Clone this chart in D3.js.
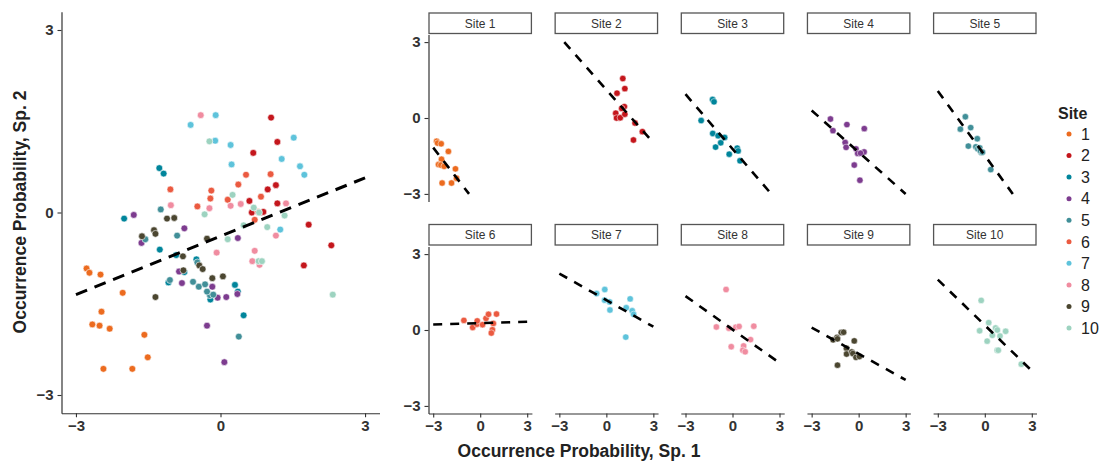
<!DOCTYPE html>
<html>
<head>
<meta charset="utf-8">
<script src="https://cdn.jsdelivr.net/npm/d3@7"></script>
<style>
  html, body { margin: 0; padding: 0; background: #fff; }
  svg { display: block; font-family: "Liberation Sans", Arial, sans-serif; }
</style>
</head>
<body>
<svg id="chart" width="1101" height="461"></svg>
<script>
// ---------------- DATA ----------------
const sites = [1, 2, 3, 4, 5, 6, 7, 8, 9, 10];
const siteColors = ["#EC6B1F", "#C4161C", "#00859B", "#7D3C8F", "#418F98",
                    "#EB5A40", "#5EC3DB", "#F08CA0", "#4B4630", "#9DD3C0"];
const tickValues = [-3, 0, 3];

// Occurrence probability of species 1 (x) per site
const sp1 = [
  [-2.78, -2.72, -2.49, -2.03, -2.47, -2.66, -2.51, -2.30, -1.58, -1.51, -2.43, -1.83],
  [1.05, 0.68, 1.18, 1.15, 0.98, 0.60, 0.82, 0.65, 0.89, 1.18, 1.83, 2.30, 1.73],
  [-1.27, -1.18, -2.00, -1.26, -0.92, -0.50, -0.75, -1.08, 0.30, 0.36, -0.21, 0.48],
  [-1.80, -1.64, -0.75, 0.36, -0.86, -0.80, -0.17, 0.35, -0.06, 0.12, -0.28, 0.08],
  [-1.24, -1.56, -0.90, -0.48, -1.05, -0.57, -0.45, -0.32, -0.22, -0.28, -0.15, 0.38],
  [-1.04, -0.48, -0.21, -0.19, 0.15, 0.37, 0.53, 1.04, 0.84, 0.78, 0.71],
  [-0.62, -0.10, -0.11, 0.21, 0.23, 1.52, 1.27, 1.65, 1.74, 1.24],
  [-0.41, -1.03, -0.23, 0.21, 0.42, 1.36, 1.15, -0.08, 0.71, 0.66, 0.81],
  [-1.11, -0.96, -1.63, -1.38, -1.35, -0.28, -0.78, -0.77, -0.44, -0.37, -0.17, 0.05, -1.35],
  [-0.23, 0.25, -0.33, 0.69, 0.80, 1.33, 0.48, 0.97, 0.15, 0.79, 0.86, 2.33]
];
// Occurrence probability of species 2 (y) per site
const sp2 = [
  [-0.92, -0.99, -1.02, -1.32, -1.63, -1.84, -1.86, -1.91, -2.01, -2.38, -2.57, -2.57],
  [1.56, 0.98, 1.16, 0.45, 0.38, 0.19, 0.00, 0.00, 0.01, 0.15, -0.20, -0.54, -0.87],
  [0.73, 0.64, -0.10, -0.61, -0.70, -0.77, -0.98, -1.15, -1.19, -1.30, -1.43, -1.69],
  [-0.04, -0.50, -0.26, -0.42, -0.97, -1.16, -1.22, -1.34, -1.40, -1.39, -1.86, -2.46],
  [0.05, -0.44, -0.38, -0.82, -1.11, -1.14, -1.22, -1.18, -1.36, -1.30, -1.35, -2.04],
  [0.38, 0.10, 0.23, 0.36, 0.21, 0.46, 0.62, 0.63, 0.26, 0.01, -0.12],
  [1.44, 1.60, 1.18, 1.11, 0.79, 1.23, 0.88, 0.76, 0.62, -0.28],
  [1.60, 0.12, 0.07, 0.11, 0.14, 0.15, -0.38, -0.66, -0.63, -0.80, -0.86],
  [-0.10, -0.09, -0.39, -0.29, -0.35, -0.43, -0.72, -0.95, -0.87, -0.93, -1.08, -1.05, -1.39],
  [1.17, 0.29, -0.03, 0.08, 0.00, -0.05, -0.21, -0.24, -0.44, -0.80, -0.80, -1.35]
];
// Within-site fitted lines (intercept, slope)
const siteIntercept = [-3.57, 1.12, -1.22, -1.35, -1.48, 0.27, 1.18, 0.02, -0.94, 0.19];
const siteSlope     = [-0.80, -0.70, -0.72, -0.55, -0.85, 0.018, -0.35, -0.44, -0.345, -0.60];
// Pooled fitted line
const pooledIntercept = -0.39;
const pooledSlope = 0.32;

const xTitle = "Occurrence Probability, Sp. 1";
const yTitle = "Occurrence Probability, Sp. 2";
const legendTitle = "Site";

// ---------------- HELPERS ----------------
const points = [];
sites.forEach((s, i) => sp1[i].forEach((x, j) => points.push({ site: s, idx: i, x: x, y: sp2[i][j] })));

function clippedSegment(a, b) {
  // line y = a + b x, x in [-3,3], clipped to y in [-3,3]
  let x0 = -3, x1 = 3;
  if (b !== 0) {
    const xa = (3 - a) / b, xb = (-3 - a) / b;
    const lo = Math.min(xa, xb), hi = Math.max(xa, xb);
    x0 = Math.max(x0, lo); x1 = Math.min(x1, hi);
  }
  return [[x0, a + b * x0], [x1, a + b * x1]];
}

const svg = d3.select("#chart");
const fmt = d => (d < 0 ? "\u2212" : "") + Math.abs(d);

function styleAxis(g) {
  g.select(".domain").attr("stroke", "#333").attr("stroke-width", 1.2);
  g.selectAll(".tick line").attr("stroke", "#333").attr("stroke-width", 1.1);
  g.selectAll(".tick text").attr("fill", "#333").attr("font-size", 15)
    .attr("font-weight", "bold").attr("font-family", "Liberation Sans, Arial, sans-serif");
}

// ---------------- LEFT PANEL ----------------
const xL = d3.scaleLinear().domain([-3.3, 3.3]).range([61.5, 379.5]);
const yL = d3.scaleLinear().domain([-3.3, 3.3]).range([413.25, 11.75]);

const left = svg.append("g");
left.append("g").attr("transform", "translate(0,413.25)")
  .call(d3.axisBottom(xL).tickValues(tickValues).tickFormat(fmt).tickSize(4).tickSizeOuter(0).tickPadding(3))
  .call(styleAxis);
left.append("g").attr("transform", "translate(61.5,0)")
  .call(d3.axisLeft(yL).tickValues(tickValues).tickFormat(fmt).tickSize(4).tickSizeOuter(0).tickPadding(4))
  .call(styleAxis);

left.selectAll("circle.pt").data(points).join("circle")
  .attr("cx", d => xL(d.x)).attr("cy", d => yL(d.y)).attr("r", 3.4)
  .attr("fill", d => siteColors[d.idx]).attr("stroke", "#fff").attr("stroke-width", 0.6);

const pooledSeg = clippedSegment(pooledIntercept, pooledSlope);
left.append("path")
  .attr("d", d3.line().x(d => xL(d[0])).y(d => yL(d[1]))(pooledSeg))
  .attr("fill", "none").attr("stroke", "#000").attr("stroke-width", 3)
  .attr("stroke-dasharray", "12,8");

left.append("text")
  .attr("transform", "translate(26,212) rotate(-90)")
  .attr("text-anchor", "middle").attr("font-size", 17.5).attr("font-weight", "bold")
  .attr("fill", "#222").text(yTitle);

// ---------------- FACETS ----------------
const facetLeft0 = 428.5, facetPitch = 126.15, facetW = 103.4;
const rowPanelTop = [34.5, 246.5], panelH = 167;
const rowStripTop = [13, 224.5], stripH = 20.5;

sites.forEach((s, i) => {
  const col = i % 5, row = Math.floor(i / 5);
  const x0 = facetLeft0 + col * facetPitch;
  const fx = d3.scaleLinear().domain([-3.3, 3.3]).range([x0, x0 + facetW]);
  const fy = d3.scaleLinear().domain([-3.3, 3.3]).range([rowPanelTop[row] + panelH, rowPanelTop[row]]);
  const g = svg.append("g");

  // strip
  g.append("rect").attr("x", x0 + 0.5).attr("y", rowStripTop[row])
    .attr("width", facetW - 1).attr("height", stripH)
    .attr("fill", "#fff").attr("stroke", "#555").attr("stroke-width", 1.3);
  g.append("text").attr("x", x0 + facetW / 2).attr("y", rowStripTop[row] + stripH / 2 + 4.3)
    .attr("text-anchor", "middle").attr("font-size", 12).attr("fill", "#333")
    .text("Site " + s);

  if (col === 0) {
    g.append("g").attr("transform", `translate(${x0},0)`)
      .call(d3.axisLeft(fy).tickValues(tickValues).tickFormat(fmt).tickSize(4).tickSizeOuter(0).tickPadding(4))
      .call(styleAxis);
  }
  if (row === 1) {
    g.append("g").attr("transform", `translate(0,${rowPanelTop[row] + panelH})`)
      .call(d3.axisBottom(fx).tickValues(tickValues).tickFormat(fmt).tickSize(4).tickSizeOuter(0).tickPadding(3))
      .call(styleAxis);
  }

  const pts = points.filter(p => p.idx === i);
  g.selectAll("circle").data(pts).join("circle")
    .attr("cx", d => fx(d.x)).attr("cy", d => fy(d.y)).attr("r", 3.2)
    .attr("fill", siteColors[i]).attr("stroke", "#fff").attr("stroke-width", 0.5);

  const seg = clippedSegment(siteIntercept[i], siteSlope[i]);
  g.append("path")
    .attr("d", d3.line().x(d => fx(d[0])).y(d => fy(d[1]))(seg))
    .attr("fill", "none").attr("stroke", "#000").attr("stroke-width", 2.6)
    .attr("stroke-dasharray", "9,8");
});

svg.append("text").attr("x", 579).attr("y", 457)
  .attr("text-anchor", "middle").attr("font-size", 17.5).attr("font-weight", "bold")
  .attr("fill", "#222").text(xTitle);

// ---------------- LEGEND ----------------
const legend = svg.append("g");
legend.append("text").attr("x", 1058).attr("y", 119)
  .attr("font-size", 16).attr("font-weight", "bold").attr("fill", "#222").text(legendTitle);
const ly = d3.scalePoint().domain(sites).range([134, 328]);
legend.selectAll("circle").data(sites).join("circle")
  .attr("cx", 1069).attr("cy", d => ly(d)).attr("r", 2.5)
  .attr("fill", (d, i) => siteColors[i]);
legend.selectAll("text.lab").data(sites).join("text").attr("class", "lab")
  .attr("x", 1081).attr("y", d => ly(d) + 5.8)
  .attr("font-size", 16).attr("fill", "#222").text(d => d);
</script>
</body>
</html>
